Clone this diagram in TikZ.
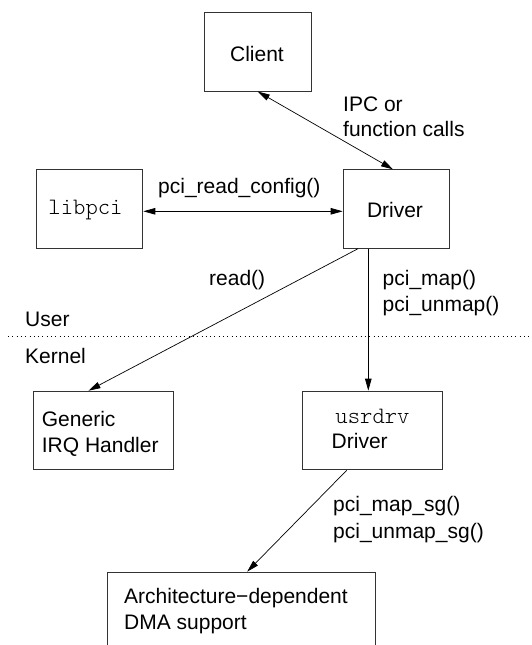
\documentclass[tikz,border=0pt]{standalone}
\usepackage{fontspec}
\setmainfont{Liberation Sans}
\newfontfamily\lmlight[Extension=.otf]{lmmonolt10-regular}
\usetikzlibrary{arrows.meta}
\begin{document}
\begin{tikzpicture}[x=1pt,y=-1pt,
  font=\fontsize{21}{26}\selectfont,
  box/.style={draw=black!80, line width=1pt, inner sep=0pt, anchor=north west},
  lbl/.style={anchor=base west, inner sep=0pt},
  clbl/.style={anchor=base, inner sep=0pt},
  mono/.style={font=\fontsize{23.5}{26}\selectfont\lmlight},
  mytip/.tip={Triangle[length=12pt,width=6.5pt]},
  conn/.style={line width=0.7pt, -{mytip}},
  dconn/.style={line width=0.7pt, {mytip}-{mytip}}]
\clip (0,0) rectangle (531,645);
\fill[white] (0,0) rectangle (531,645);
% boxes
\node[box, minimum width=106.6pt, minimum height=78.6pt] (client) at (204,12) {};
\node[box, minimum width=106.6pt, minimum height=78.4pt] (libpci) at (35.7,169.3) {};
\node[box, minimum width=106.6pt, minimum height=78.4pt] (driver) at (342.7,169.3) {};
\node[box, minimum width=140.6pt, minimum height=78.6pt] (generic) at (32.7,390.7) {};
\node[box, minimum width=140.6pt, minimum height=78.6pt] (usrdrv) at (301.7,390.7) {};
\node[box, minimum width=267.7pt, minimum height=110pt] (arch) at (107.3,571.7) {};
% box texts
\node[clbl] (tclient) at (257,61) {Client};
\node[clbl, mono] (tlibpci) at (85.5,214) {libpci};
\node[clbl] (tdriver) at (395,217) {Driver};
\node[lbl] (tgen1) at (41.7,426) {Generic};
\node[lbl] (tgen2) at (41.7,452) {IRQ Handler};
\node[clbl, mono] (tusr1) at (372.5,423) {usrdrv};
\node[lbl] (tusr2) at (331.5,448.5) {Driver};
\node[lbl] (tarch1) at (124,603) {Architecture\textminus dependent};
\node[lbl] (tarch2) at (124,629.5) {DMA support};
% connectors
\draw[dconn] (client.south) -- ([xshift=-3.5pt]driver.north);
\draw[dconn] ([yshift=-2.3pt]libpci.east) -- ([yshift=-2.3pt]driver.west);
\draw[conn] ([xshift=15.3pt]driver.south west) -- ([xshift=-15pt]generic.north);
\draw[conn] ([xshift=25.6pt]driver.south west) coordinate (mtop) -- (mtop |- usrdrv.north);
\draw[conn] ([xshift=45pt]usrdrv.south west) -- ([xshift=5.5pt]arch.north);
% connector labels
\node[lbl] (lipc1) at (343,111) {IPC or};
\node[lbl] (lipc2) at (343,136.5) {function calls};
\node[lbl] (lrcfg) at (158,193.3) {pci\_read\_config()};
\node[lbl] (lread) at (209,285) {read()};
\node[lbl] (lmap1) at (382.5,285) {pci\_map()};
\node[lbl] (lmap2) at (382.5,311.5) {pci\_unmap()};
\node[lbl] (lsg1) at (333,511.5) {pci\_map\_sg()};
\node[lbl] (lsg2) at (333,538) {pci\_unmap\_sg()};
% user/kernel boundary
\coordinate (dl) at (8,336);
\coordinate (dr) at (531,336);
\draw[line width=1pt, dash pattern=on 1pt off 3.3pt] (dl) -- (dr);
\node[lbl] (luser) at (25,326.7) {User};
\node[lbl] (lkernel) at (25,363) {Kernel};
\end{tikzpicture}
\end{document}
